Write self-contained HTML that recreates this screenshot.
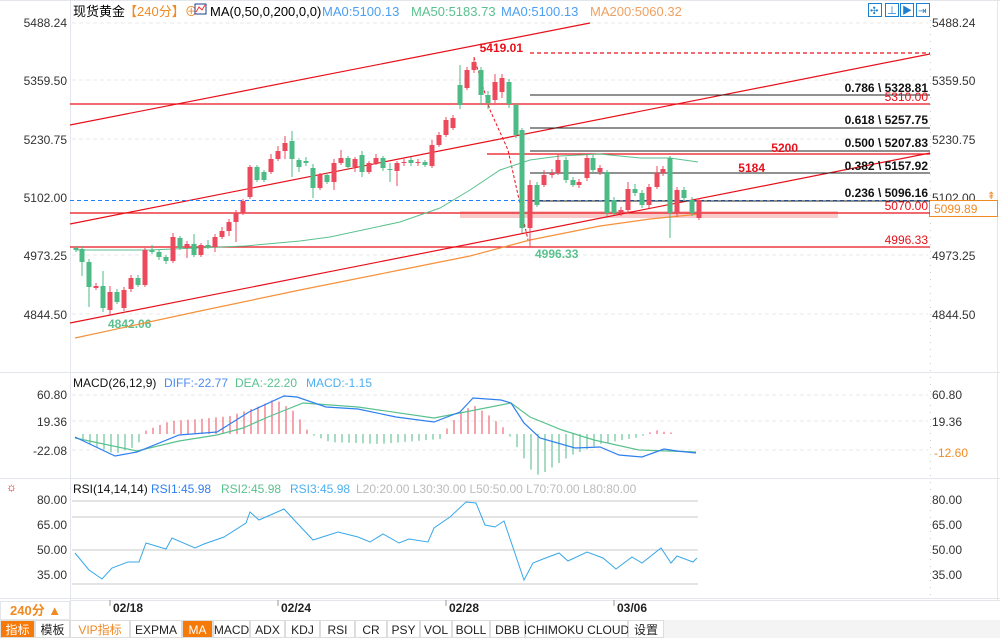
<!DOCTYPE html>
<html><head><meta charset="utf-8"><style>
body{margin:0;background:#fff;width:1000px;height:638px;overflow:hidden;font-family:"Liberation Sans","Noto Sans CJK SC",sans-serif}
svg text{font-family:"Liberation Sans","Noto Sans CJK SC",sans-serif}
</style></head><body>
<svg id="s" width="1000" height="638" xmlns="http://www.w3.org/2000/svg" font-size="12">
<rect width="1000" height="638" fill="#fff"/>
<!-- frame -->
<line x1="0" y1="0.5" x2="1000" y2="0.5" stroke="#e3e6ea"/>
<line x1="70.5" y1="0" x2="70.5" y2="620" stroke="#e3e6ea"/>
<line x1="930.5" y1="20" x2="930.5" y2="600" stroke="#ccc" stroke-dasharray="1,6"/>
<line x1="997.5" y1="0" x2="997.5" y2="600" stroke="#e3e6ea"/>
<line x1="0" y1="372.5" x2="1000" y2="372.5" stroke="#e3e6ea"/>
<line x1="0" y1="478.5" x2="1000" y2="478.5" stroke="#e3e6ea"/>
<line x1="0" y1="598.5" x2="1000" y2="598.5" stroke="#e3e6ea"/>
<line x1="70" y1="600.5" x2="1000" y2="600.5" stroke="#e3e6ea"/>
<g stroke="#e8e8e8" stroke-dasharray="4,3">
<line x1="72" y1="23" x2="928" y2="23"/><line x1="72" y1="80" x2="928" y2="80"/><line x1="72" y1="139" x2="928" y2="139"/><line x1="72" y1="255" x2="928" y2="255"/><line x1="72" y1="314" x2="928" y2="314"/>
<line x1="72" y1="395" x2="928" y2="395"/><line x1="72" y1="421" x2="928" y2="421"/><line x1="72" y1="450" x2="928" y2="450"/>
</g>
<!-- axis labels -->
<g fill="#333" font-size="12">
<g text-anchor="end"><text x="67" y="27">5488.24</text><text x="67" y="85">5359.50</text><text x="67" y="144">5230.75</text><text x="67" y="202">5102.00</text><text x="67" y="260">4973.25</text><text x="67" y="319">4844.50</text>
<text x="67" y="399">60.80</text><text x="67" y="426">19.36</text><text x="67" y="455">-22.08</text>
<text x="67" y="504">80.00</text><text x="67" y="529">65.00</text><text x="67" y="554">50.00</text><text x="67" y="579">35.00</text></g>
<text x="932" y="27">5488.24</text><text x="932" y="85">5359.50</text><text x="932" y="144">5230.75</text><text x="932" y="202">5102.00</text><text x="932" y="260">4973.25</text><text x="932" y="319">4844.50</text>
<text x="932" y="399">60.80</text><text x="932" y="426">19.36</text>
<text x="932" y="504">80.00</text><text x="932" y="529">65.00</text><text x="932" y="554">50.00</text><text x="932" y="579">35.00</text>
</g>
<text x="934" y="457" fill="#f08a24">-12.60</text>
<rect x="929.5" y="200.5" width="68" height="16" fill="#fff" stroke="#f08a24"/>
<text x="934" y="213" fill="#f08a24">5099.89</text>
<text x="987" y="199" fill="#f08a24" font-size="10">⇞</text>
<!-- title -->
<text x="73" y="16" font-size="13" fill="#000">现货黄金</text>
<text x="124" y="16" font-size="13" fill="#f08a24">【240分】⊕</text>
<rect x="195" y="4" width="11" height="10" fill="#fff" stroke="#1a3c8c"/><polyline points="196,12 199,7 202,10 205,5" fill="none" stroke="#e33" />
<text x="210" y="16" font-size="13" fill="#000">MA(0,50,0,200,0,0)</text>
<text x="322" y="16" font-size="13" fill="#4c9ff0">MA0:5100.13</text>
<text x="411" y="16" font-size="13" fill="#5ac18e">MA50:5183.73</text>
<text x="501" y="16" font-size="13" fill="#4c9ff0">MA0:5100.13</text>
<text x="590" y="16" font-size="13" fill="#f0a060">MA200:5060.32</text>
<g fill="none" stroke="#1e7fd0"><rect x="868.5" y="3.5" width="13" height="13"/><rect x="885.5" y="3.5" width="13" height="13"/><rect x="900.5" y="3.5" width="13" height="13"/><rect x="916.5" y="3.5" width="13" height="13"/></g>
<g fill="#1e7fd0" font-size="10"><text x="870" y="14">✣</text><text x="887" y="14">⊥</text><text x="902" y="14">▶</text><text x="918" y="14">⇥</text></g>
<!-- price lines -->
<rect x="460" y="211" width="378" height="7" fill="#f9caca"/>
<g stroke="#e8101a" stroke-width="1.2" fill="none">
<line x1="70" y1="125" x2="590" y2="23"/>
<line x1="70" y1="224" x2="930" y2="54"/>
<line x1="70" y1="323" x2="930" y2="153"/>
<line x1="70" y1="104" x2="930" y2="104"/>
<line x1="70" y1="213" x2="930" y2="213"/>
<line x1="70" y1="247" x2="930" y2="247"/>
<line x1="487" y1="154" x2="930" y2="154"/>
<line x1="530" y1="53" x2="930" y2="53" stroke-dasharray="4,3"/>
<polyline points="474,57 490,110 508,150 528,240" stroke-dasharray="3,2" stroke-width="1"/>
</g>
<line x1="70" y1="200.5" x2="930" y2="200.5" stroke="#1e7fff" stroke-dasharray="4,3"/>
<g stroke="#222" stroke-width="1">
<line x1="530" y1="95" x2="930" y2="95"/><line x1="530" y1="128" x2="930" y2="128"/><line x1="530" y1="151" x2="930" y2="151"/><line x1="530" y1="173" x2="930" y2="173"/><line x1="530" y1="201" x2="930" y2="201"/>
</g>
<g font-size="12" font-weight="bold" fill="#111" text-anchor="end">
<text x="928" y="92">0.786 \ 5328.81</text><text x="928" y="124">0.618 \ 5257.75</text><text x="928" y="147">0.500 \ 5207.83</text><text x="928" y="170">0.382 \ 5157.92</text><text x="928" y="197">0.236 \ 5096.16</text>
</g>
<g fill="#e8101a" font-size="12" text-anchor="end">
<text x="928" y="101">5310.00</text><text x="928" y="210">5070.00</text><text x="928" y="244">4996.33</text>
<text x="798" y="152" font-weight="bold">5200</text><text x="765" y="172" font-weight="bold">5184</text>
<text x="523" y="52" font-weight="bold">5419.01</text>
</g>
<text x="535" y="258" fill="#5ac18e" font-weight="bold">4996.33</text>
<text x="108" y="328" fill="#5ac18e" font-weight="bold">4842.06</text>
<!-- MAs -->
<polyline fill="none" stroke="#5ac18e" stroke-width="1" points="76,250 150,250 220,247 245,246 300,241 330,237 400,222 440,208 470,190 500,170 530,160 560,156 600,154 640,158 670,158 698,162"/>
<polyline fill="none" stroke="#f5913a" stroke-width="1.2" points="75,338 200,311 300,290 400,270 470,256 530,240 600,226 650,219 700,214"/>
<g id="candles"></g>
<!-- MACD -->
<text x="73" y="387" font-size="12" fill="#111">MACD(26,12,9)</text>
<text x="164" y="387" font-size="12" fill="#4c8cf0">DIFF:-22.77</text>
<text x="235" y="387" font-size="12" fill="#5ac18e">DEA:-22.20</text>
<text x="306" y="387" font-size="12" fill="#4cb0f0">MACD:-1.15</text>
<g id="hist"></g>
<polyline fill="none" stroke="#5ac18e" stroke-width="1.2" points="75,438 137,451 179,441 217,435 243,428 268,417 303,403 358,407 434,418 460,413 511,403 530,417 562,430 594,440 639,450 696,452"/>
<polyline fill="none" stroke="#2f7ff0" stroke-width="1.2" points="75,437 115,456 137,452 179,435 217,432 249,412 284,396 297,397 326,407 358,409 396,417 434,422 460,412 473,398 501,400 511,403 524,423 540,438 575,448 600,447 619,455 642,457 664,449 677,451 696,453"/>
<!-- RSI -->
<text x="6" y="491" font-size="12" fill="#d00">☼</text>
<text x="73" y="493" font-size="12" fill="#111">RSI(14,14,14)</text>
<text x="151" y="493" font-size="12" fill="#2f7ff0">RSI1:45.98</text>
<text x="221" y="493" font-size="12" fill="#5ac18e">RSI2:45.98</text>
<text x="290" y="493" font-size="12" fill="#4cb0f0">RSI3:45.98</text>
<text x="356" y="493" font-size="12" fill="#bbb">L20:20.00  L30:30.00  L50:50.00  L70:70.00  L80:80.00</text>
<g stroke="#c8c8c8"><line x1="72" y1="501" x2="698" y2="501"/><line x1="72" y1="517" x2="698" y2="517"/><line x1="72" y1="550" x2="698" y2="550"/><line x1="72" y1="584" x2="698" y2="584"/></g>
<polyline fill="none" stroke="#38a8e8" stroke-width="1" points="75,553 89,570 102,579 112,568 128,562 139,562 146,543 166,549 172,538 195,548 204,544 224,537 246,523 250,512 259,520 284,509 297,523 313,540 338,532 358,537 370,542 383,534 399,543 409,539 428,542 434,528 450,517 466,502 476,503 485,525 495,527 504,521 524,580 533,563 543,559 559,553 568,561 587,552 603,558 616,569 632,557 642,563 661,548 671,563 677,556 693,562 697,558"/>
<!-- dates -->
<g stroke="#999"><line x1="110" y1="600" x2="110" y2="606"/><line x1="278" y1="600" x2="278" y2="606"/><line x1="446" y1="600" x2="446" y2="606"/><line x1="614" y1="600" x2="614" y2="606"/></g>
<g font-size="12" fill="#222" font-weight="bold"><text x="113" y="612">02/18</text><text x="281" y="612">02/24</text><text x="449" y="612">02/28</text><text x="617" y="612">03/06</text></g>
<rect x="0.5" y="601.5" width="69" height="18" fill="#fff" stroke="#e3e6ea"/>
<text x="10" y="615" font-size="13" fill="#f08a24" font-weight="bold">240分 ▲</text>
<!-- toolbar -->
<rect x="0" y="620" width="1000" height="18" fill="#f4f4f4"/>
<g id="tb"></g>
</svg>
<script>
const NS="http://www.w3.org/2000/svg";
function el(p,t,a){const e=document.createElementNS(NS,t);for(const k in a)e.setAttribute(k,a[k]);p.appendChild(e);return e;}
const R="#ec4a5c",G="#4cbb85";
// [x, top, bottom, color, hiExt, loExt]
const c=[[76,248,250,'g',2,2],[82,249,262,'g',3,14],[89,262,287,'g',3,20],[96,286,288,'r',3,2],[103,286,308,'g',15,4],[110,292,310,'r',6,5],[117,292,302,'g',3,2],[124,290,308,'r',3,3],[131,278,289,'r',3,3],[138,278,285,'g',3,2],[145,250,285,'r',2,2],[152,250,252,'g',5,2],[159,252,257,'g',2,3],[166,257,261,'g',2,3],[173,237,261,'r',4,2],[180,238,248,'g',2,2],[187,244,248,'r',3,10],[194,244,255,'g',10,2],[201,245,255,'r',2,2],[208,245,247,'g',5,2],[215,237,247,'r',3,5],[222,231,237,'r',4,2],[229,222,231,'r',3,5],[236,213,222,'r',3,20],[243,201,213,'r',2,2],[250,167,197,'r',2,2],[257,167,180,'g',2,2],[264,172,180,'g',2,2],[271,159,172,'r',5,2],[278,151,159,'r',5,2],[285,143,151,'r',7,8],[292,141,159,'g',10,18],[299,160,167,'g',2,5],[306,161,163,'g',4,3],[313,168,188,'g',4,10],[320,175,188,'r',2,2],[327,175,182,'g',2,2],[334,163,182,'r',4,8],[341,158,163,'r',8,2],[348,158,167,'g',2,2],[355,159,167,'r',2,5],[362,155,172,'g',4,5],[369,163,172,'r',2,2],[376,158,163,'r',4,2],[383,158,168,'g',2,3],[390,169,170,'g',6,12],[397,163,171,'r',2,15],[404,162,163,'r',3,3],[411,160,163,'g',3,3],[418,162,163,'r',3,3],[425,162,165,'g',2,2],[432,145,166,'r',5,2],[439,135,145,'r',3,2],[446,120,135,'r',3,2],[453,118,128,'r',3,2],[460,85,105,'g',20,4],[467,70,88,'r',3,2],[474,62,70,'r',5,3],[481,70,95,'g',3,10],[488,95,103,'g',4,6],[495,82,100,'r',8,3],[502,78,92,'r',4,6],[509,82,104,'g',3,4],[516,105,135,'g',2,3],[522,130,228,'g',2,5],[530,185,228,'r',5,19],[537,185,205,'g',3,2],[544,175,185,'r',5,2],[552,173,175,'r',4,3],[558,160,173,'r',6,2],[566,160,180,'g',3,3],[573,180,185,'g',3,2],[579,182,185,'r',3,3],[587,158,178,'r',3,3],[593,158,170,'g',3,3],[600,168,172,'r',3,3],[607,172,213,'g',2,3],[614,200,213,'g',3,2],[621,210,213,'r',3,3],[628,189,210,'r',7,3],[635,189,193,'g',5,3],[642,193,205,'g',3,3],[649,187,205,'r',3,3],[657,173,187,'r',7,2],[663,169,173,'r',3,3],[670,158,213,'g',2,25],[677,190,213,'r',3,4],[684,190,198,'g',3,3],[692,200,213,'g',3,3],[699,200,218,'r',2,2]];
const g=document.getElementById('candles');
c.forEach(([x,t,b,k,h,l])=>{const col=k=='r'?R:G;el(g,'line',{x1:x,y1:t-h,x2:x,y2:b+l,stroke:col});el(g,'rect',{x:x-2.5,y:t,width:5,height:Math.max(1,b-t),fill:col});});
// histogram
const hg=document.getElementById('hist');const z=434;
function hv(x){ // approximate macd histogram
 const pts=[[75,0],[90,10],[115,20],[137,12],[145,-3],[170,-13],[200,-15],[230,-18],[260,-28],[275,-35],[295,-22],[310,0],[330,8],[380,10],[440,5],[450,-10],[465,-25],[475,-28],[490,-18],[505,-5],[515,10],[535,42],[545,38],[570,22],[600,10],[640,3],[655,-4],[665,-2],[690,0],[697,1]];
 for(let i=0;i<pts.length-1;i++){if(x>=pts[i][0]&&x<=pts[i+1][0]){const [a,va]=pts[i],[b,vb]=pts[i+1];return va+(vb-va)*(x-a)/(b-a);}}return 0;}
for(let x=76;x<=698;x+=7){const v=hv(x);if(Math.abs(v)<1)continue;el(hg,'line',{x1:x,y1:z,x2:x,y2:z+v,stroke:v<0?R:G,'stroke-width':1});}
// toolbar
const tb=document.getElementById('tb');
const items=[["指标",0,35,1],["模板",35,70,0],["VIP指标",70,130,2],["EXPMA",130,182,0],["MA",182,213,1],["MACD",213,250,0],["ADX",250,285,0],["KDJ",285,320,0],["RSI",320,355,0],["CR",355,387,0],["PSY",387,420,0],["VOL",420,452,0],["BOLL",452,490,0],["DBB",490,525,0],["ICHIMOKU CLOUD",525,628,0],["设置",628,664,0]];
items.forEach(([t,a,b,s])=>{el(tb,'rect',{x:a+0.5,y:620.5,width:b-a-1,height:17,fill:s==1?'#f57a0a':'#fff',stroke:'#ddd'});const tx=el(tb,'text',{x:(a+b)/2,y:634,'text-anchor':'middle','font-size':12,fill:s==1?'#fff':(s==2?'#f08a24':'#222')});tx.textContent=t;});
</script>
</body></html>
